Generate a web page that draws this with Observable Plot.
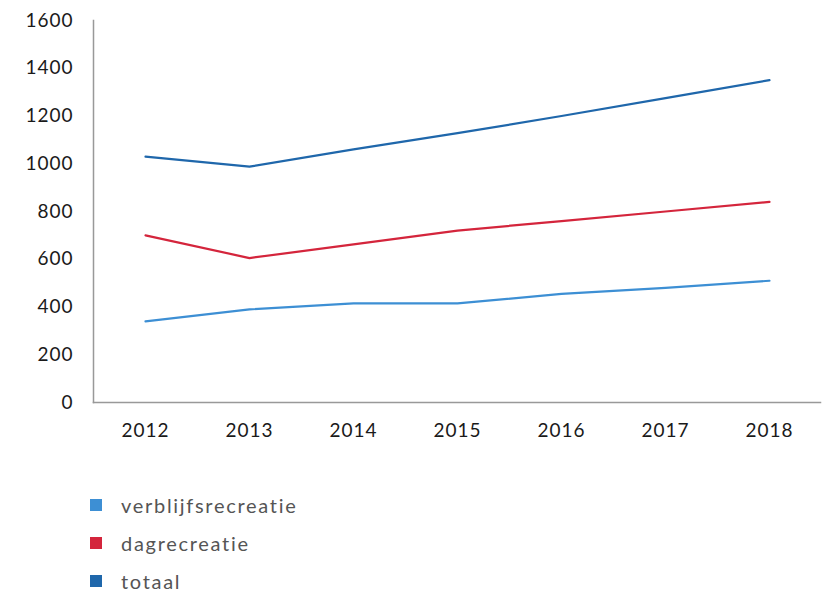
<!DOCTYPE html>
<html>
<head>
<meta charset="utf-8">
<script src="https://cdn.jsdelivr.net/npm/d3@7"></script>
<script src="https://cdn.jsdelivr.net/npm/@observablehq/plot@0.6"></script>
<style>
  body { margin: 0; background: #fff; font-family: Lato, "Noto Sans", sans-serif; }
  #legend { margin: 26px 0 0 90px; }
  .item { display: flex; align-items: center; height: 38px; font-size: 20px; color: #555; letter-spacing: 1.7px; }
  .sw { width: 12px; height: 12px; margin-right: 19px; }
  svg text { letter-spacing: 1px; }
</style>
</head>
<body>
<div id="chart"></div>
<div id="legend"></div>
<script>
const years = ["2012", "2013", "2014", "2015", "2016", "2017", "2018"];
const verblijfsrecreatie = [340, 390, 415, 415, 455, 480, 510];
const dagrecreatie = [700, 605, 662, 720, 760, 800, 840];
const totaal = [1030, 988, 1060, 1128, 1200, 1275, 1350];
const seriesNames = ["verblijfsrecreatie", "dagrecreatie", "totaal"];
const seriesColors = ["#3d8fd4", "#d4253c", "#1f67ab"];
const yTicks = [0, 200, 400, 600, 800, 1000, 1200, 1400, 1600];

const valuesBySeries = [verblijfsrecreatie, dagrecreatie, totaal];
const data = [];
seriesNames.forEach((s, i) => years.forEach((y, j) => data.push({ year: y, value: valuesBySeries[i][j], series: s })));

const chart = Plot.plot({
  width: 828,
  height: 460,
  marginLeft: 93,
  marginRight: 8,
  marginTop: 20,
  marginBottom: 58,
  style: { fontFamily: "Lato, 'Noto Sans', sans-serif", fontSize: "19px", color: "#1a1a1a" },
  x: { domain: years, type: "point", padding: 0.48, label: null, tickSize: 0, tickPadding: 21 },
  y: { domain: [0, 1600], ticks: yTicks, label: null, tickSize: 0, tickPadding: 20, tickFormat: d => String(d) },
  color: { domain: seriesNames, range: seriesColors },
  marks: [
    Plot.frame({ anchor: "left", stroke: "#999", strokeWidth: 1.5 }),
    Plot.frame({ anchor: "bottom", stroke: "#999", strokeWidth: 1.5 }),
    Plot.line(data, { x: "year", y: "value", z: "series", stroke: "series", strokeWidth: 2.2 })
  ]
});
document.getElementById("chart").appendChild(chart);

const legend = document.getElementById("legend");
seriesNames.forEach((s, i) => {
  const row = document.createElement("div");
  row.className = "item";
  const sw = document.createElement("span");
  sw.className = "sw";
  sw.style.background = seriesColors[i];
  row.appendChild(sw);
  row.appendChild(document.createTextNode(s));
  legend.appendChild(row);
});
</script>
</body>
</html>
